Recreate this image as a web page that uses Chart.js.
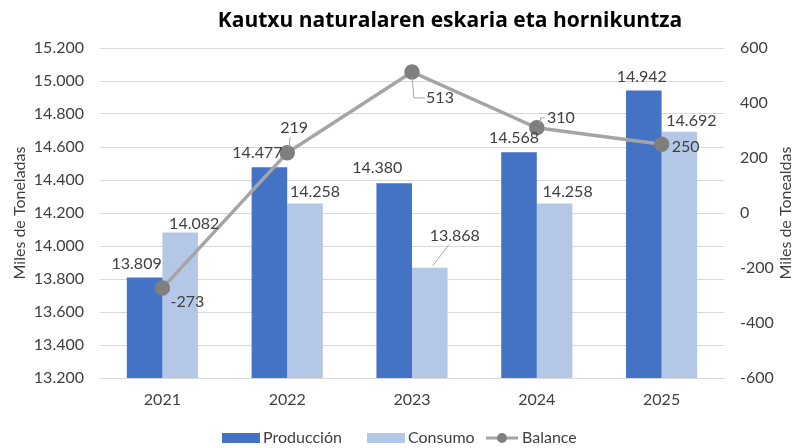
<!DOCTYPE html>
<html>
<head>
<meta charset="utf-8">
<script src="https://cdn.jsdelivr.net/npm/chart.js@4"></script>
<style>
  html, body { margin: 0; padding: 0; background: #fff; }
  #wrap { width: 799px; height: 448px; }
</style>
</head>
<body>
<div id="wrap"><canvas id="chart" width="799" height="448"></canvas></div>
<script>
// Data
const years = ['2021', '2022', '2023', '2024', '2025'];
const produccion = [13809, 14477, 14380, 14568, 14942];
const consumo = [14082, 14258, 13868, 14258, 14692];
const balance = [-273, 219, 513, 310, 250];

const titleText = 'Kautxu naturalaren eskaria eta hornikuntza';
const rightTitle = 'Miles de Tonealdas';
const FONT = 'Lato, "Open Sans", sans-serif';
const SIZE = 16;
const TEXT = '#404040';

const fmt = v => {
  const s = Math.abs(v).toString().replace(/\B(?=(\d{3})+(?!\d))/g, '.');
  return (v < 0 ? '-' : '') + s;
};

// label placement relative to bar top / point: [dx, dy, leader]
const labelPlace = {
  0: [[-8, -14], [-12, -14], [-17, -15], [-5, -14], [-2, -14]],
  1: [[14, -9], [10, -12], [25, -32, true], [13, -12], [12, -11]],
  2: [[25, 14], [7, -25, true], [28, 26, true], [24, -10, true], [24, 3]]
};

const labelsPlugin = {
  id: 'labels',
  afterDatasetsDraw(chart) {
    const ctx = chart.ctx;
    ctx.save();
    ctx.font = SIZE + 'px ' + FONT;
    ctx.fillStyle = TEXT;
    ctx.textAlign = 'center';
    ctx.textBaseline = 'middle';
    chart.data.datasets.forEach((ds, di) => {
      chart.getDatasetMeta(di).data.forEach((el, i) => {
        const p = labelPlace[di][i];
        const x = el.x + p[0];
        const y = el.y + p[1];
        if (p[2]) {
          ctx.strokeStyle = '#a6a6a6';
          ctx.lineWidth = 1;
          ctx.beginPath();
          if (di === 2 && i === 2) {
            ctx.moveTo(el.x, el.y + 6);
            ctx.lineTo(el.x + 2, y);
            ctx.lineTo(x - 15, y);
          } else if (di === 2 && i === 3) {
            ctx.moveTo(el.x + 3, el.y - 4);
            ctx.lineTo(x - 20, y);
            ctx.lineTo(x - 16, y);
          } else if (di === 2) {
            ctx.moveTo(el.x + 2, el.y - 5);
            ctx.lineTo(x - 4, y + 9);
          } else {
            ctx.moveTo(el.x + 3, el.y - 2);
            ctx.lineTo(x - 6, y + 9);
          }
          ctx.stroke();
        }
        ctx.fillText(fmt(ds.data[i]), x, y);
      });
    });
    ctx.restore();
  },
  afterDraw(chart) {
    const ctx = chart.ctx;
    ctx.save();
    // title
    ctx.font = 'bold 21px "Open Sans", sans-serif';
    ctx.fillStyle = '#000';
    ctx.textAlign = 'center';
    ctx.textBaseline = 'middle';
    ctx.fillText(titleText, 450, 21);

    // right axis title, reads bottom to top like the left one
    ctx.font = SIZE + 'px ' + FONT;
    ctx.fillStyle = TEXT;
    ctx.save();
    ctx.translate(786, (chart.chartArea.top + chart.chartArea.bottom) / 2);
    ctx.rotate(-Math.PI / 2);
    ctx.fillText(rightTitle, 0, 0);
    ctx.restore();

    // legend
    ctx.textAlign = 'left';
    const ly = 438;
    const ds = chart.data.datasets;
    ctx.fillStyle = ds[0].backgroundColor;
    ctx.fillRect(222, ly - 5, 38, 10);
    ctx.fillStyle = TEXT;
    ctx.fillText(ds[0].label, 263, ly);
    ctx.fillStyle = ds[1].backgroundColor;
    ctx.fillRect(367, ly - 5, 38, 10);
    ctx.fillStyle = TEXT;
    ctx.fillText(ds[1].label, 408, ly);
    ctx.strokeStyle = ds[2].borderColor;
    ctx.lineWidth = 3;
    ctx.beginPath();
    ctx.moveTo(486, ly);
    ctx.lineTo(518, ly);
    ctx.stroke();
    ctx.fillStyle = ds[2].pointBackgroundColor;
    ctx.beginPath();
    ctx.arc(502, ly, 5, 0, Math.PI * 2);
    ctx.fill();
    ctx.fillStyle = TEXT;
    ctx.fillText(ds[2].label, 522, ly);
    ctx.restore();
  }
};

const ctx = document.getElementById('chart').getContext('2d');

new Chart(ctx, {
  data: {
    labels: years,
    datasets: [
      {
        type: 'bar',
        label: 'Producción',
        data: produccion,
        yAxisID: 'y',
        backgroundColor: '#4472c4',
        categoryPercentage: 0.57,
        barPercentage: 1,
        order: 1
      },
      {
        type: 'bar',
        label: 'Consumo',
        data: consumo,
        yAxisID: 'y',
        backgroundColor: '#b4c7e7',
        categoryPercentage: 0.57,
        barPercentage: 1,
        order: 1
      },
      {
        type: 'line',
        label: 'Balance',
        data: balance,
        yAxisID: 'y1',
        borderColor: '#a5a5a5',
        borderWidth: 3.5,
        pointBackgroundColor: '#7f7f7f',
        pointBorderColor: '#7f7f7f',
        pointRadius: 6,
        tension: 0,
        order: 0
      }
    ]
  },
  options: {
    responsive: false,
    animation: false,
    layout: { padding: { top: 48, bottom: 38, left: 10, right: 0 } },
    plugins: {
      legend: { display: false },
      title: { display: false },
      tooltip: { enabled: false }
    },
    scales: {
      x: {
        grid: { display: false, drawTicks: false },
        border: { color: '#d9d9d9' },
        ticks: { color: TEXT, font: { family: FONT, size: SIZE }, padding: 12 },
        afterFit: s => { s.height = 32; }
      },
      y: {
        position: 'left',
        min: 13200,
        max: 15200,
        ticks: {
          stepSize: 200,
          color: TEXT,
          font: { family: FONT, size: SIZE },
          padding: 16,
          callback: v => fmt(v)
        },
        grid: { color: '#d9d9d9', drawTicks: false },
        border: { display: false },
        title: {
          display: true,
          text: 'Miles de Toneladas',
          color: TEXT,
          font: { family: FONT, size: SIZE },
          padding: 0
        },
        afterFit: s => { s.width = 90; }
      },
      y1: {
        position: 'right',
        min: -600,
        max: 600,
        ticks: {
          stepSize: 200,
          color: TEXT,
          font: { family: FONT, size: SIZE },
          padding: 16,
          callback: v => fmt(v)
        },
        grid: { drawOnChartArea: false, drawTicks: false },
        border: { display: false },
        afterFit: s => { s.width = 75; }
      }
    }
  },
  plugins: [labelsPlugin]
});
</script>
</body>
</html>
